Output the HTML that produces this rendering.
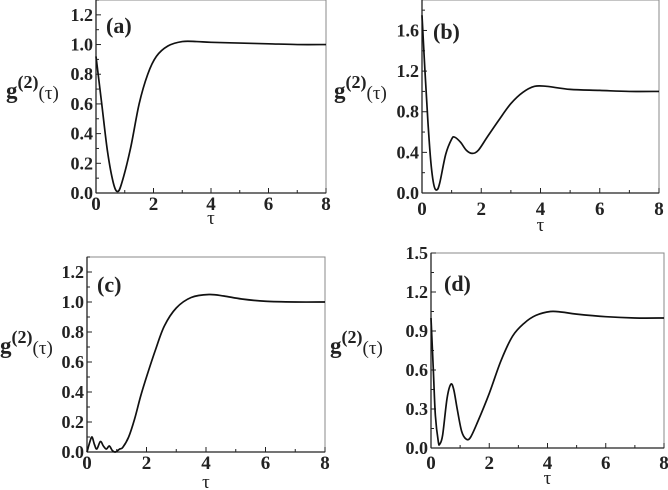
<!DOCTYPE html>
<html><head><meta charset="utf-8"><style>
html,body{margin:0;padding:0;background:#fff;}
svg{display:block;font-family:"Liberation Serif",serif;font-weight:bold;}
</style></head><body>
<svg id="fig" width="668" height="490" viewBox="0 0 668 490"></svg>
<script>
const tauA=[0,0.2,0.4,0.6,0.75,0.9,1.2,1.5,1.8,2.1,2.5,3,3.5,4,5,6,7,8];
const gA=[0.92,0.6,0.28,0.07,0.01,0.07,0.3,0.6,0.8,0.92,0.99,1.02,1.02,1.015,1.01,1.005,1.0,1.0];
const tauB=[0,0.1,0.2,0.3,0.4,0.5,0.6,0.8,1.0,1.1,1.3,1.5,1.7,1.9,2.2,2.6,3,3.4,3.8,4.2,5,6,7,8];
const gB=[1.75,1.2,0.7,0.3,0.08,0.03,0.1,0.38,0.53,0.55,0.5,0.42,0.39,0.42,0.55,0.72,0.88,0.99,1.05,1.05,1.02,1.01,1.0,1.0];
const tauC=[0,0.1,0.17,0.25,0.33,0.45,0.55,0.65,0.75,0.85,0.95,1.1,1.2,1.4,1.6,1.8,2.0,2.3,2.6,3.0,3.5,4.1,4.6,5.2,6,7,8];
const gC=[0.0,0.07,0.1,0.05,0.02,0.07,0.04,0.02,0.04,0.01,0.0,0.02,0.03,0.1,0.22,0.37,0.5,0.68,0.84,0.96,1.03,1.05,1.04,1.02,1.005,1.0,1.0];
const tauD=[0,0.08,0.15,0.25,0.3,0.4,0.55,0.68,0.78,0.9,1.05,1.2,1.35,1.6,2.0,2.4,2.8,3.2,3.6,4.1,4.5,5,6,7,8];
const gD=[1.0,0.6,0.25,0.05,0.03,0.1,0.38,0.49,0.45,0.3,0.13,0.07,0.08,0.2,0.42,0.67,0.86,0.96,1.02,1.05,1.045,1.03,1.01,1.0,1.0];
const xTicks=[0,2,4,6,8];
const yTicksA=[0,0.2,0.4,0.6,0.8,1.0,1.2];
const yTicksB=[0,0.4,0.8,1.2,1.6];
const yTicksC=[0,0.2,0.4,0.6,0.8,1.0,1.2];
const yTicksD=[0,0.3,0.6,0.9,1.2,1.5];

const NS="http://www.w3.org/2000/svg";
const svg=document.getElementById('fig');
function mk(tag,attrs,parent){const e=document.createElementNS(NS,tag);for(const k in attrs)e.setAttribute(k,attrs[k]);(parent||svg).appendChild(e);return e;}

const panels=[
 {id:'a',tau:tauA,g:gA,yt:yTicksA,ymax:1.3,x0:96,x1:326,yb:193,yt0:0,lx:6,ly:90,tag:[106,24],xl:203,tl:218},
 {id:'b',tau:tauB,g:gB,yt:yTicksB,ymax:1.9,x0:422,x1:659,yb:193,yt0:0,lx:334,ly:90,tag:[433,30],xl:208,tl:225},
 {id:'c',tau:tauC,g:gC,yt:yTicksC,ymax:1.3,x0:87,x1:325,yb:452,yt0:257,lx:0,ly:345,tag:[97,283],xl:462,tl:482},
 {id:'d',tau:tauD,g:gD,yt:yTicksD,ymax:1.5,x0:431,x1:664,yb:448,yt0:253,lx:330,ly:345,tag:[444,282],xl:462,tl:478}
];

panels.forEach(p=>{
 const g=mk('g',{});
 
 
 const X=t=>p.x0+(t/8)*(p.x1-p.x0);
 const Y=v=>p.yb-(v/p.ymax)*(p.yb-p.yt0);
 const frame=mk('rect',{x:p.x0,y:p.yt0,width:p.x1-p.x0,height:p.yb-p.yt0,fill:'none',stroke:'#888','stroke-width':1},g);
 
 
 mk('line',{x1:p.x0,y1:p.yt0,x2:p.x0,y2:p.yb,stroke:'#222','stroke-width':1.3},g);
 mk('line',{x1:p.x0,y1:p.yb,x2:p.x1,y2:p.yb,stroke:'#222','stroke-width':1.3},g);
 for(let t=0;t<=8;t+=1){
  const len=(t%2===0)?5:3;
  mk('line',{x1:X(t),y1:p.yb,x2:X(t),y2:p.yb-len,stroke:'#222'},g);
 }
 xTicks.forEach(t=>{
  const tx=mk('text',{x:X(t),y:p.xl+7,'text-anchor':'middle','font-size':19,fill:'#222'},g);
  tx.textContent=t;
  
  
 });
 const step=p.yt[1]-p.yt[0];
 for(let v=0;v<=p.ymax+1e-6;v+=step/2){
  const major=Math.abs(Math.round(v/step)*step-v)<1e-6;
  mk('line',{x1:p.x0,y1:Y(v),x2:p.x0+(major?5:3),y2:Y(v),stroke:'#222'},g);
 }
 p.yt.forEach(v=>{
  const tx=mk('text',{x:p.x0-3,y:Y(v)+6,'text-anchor':'end','font-size':18,fill:'#222'},g);
  tx.textContent=v.toFixed(1);
  
  
 });
 const xt=mk('text',{x:(p.x0+p.x1)/2,y:p.tl+6,'text-anchor':'middle','font-size':19,'font-weight':'normal',fill:'#222'},g);
 xt.textContent='τ';
 
 
 const yl=mk('text',{x:p.lx,y:p.ly+8,'font-size':23,fill:'#222'},g);
 yl.innerHTML='g<tspan dy="-10" font-size="18">(2)</tspan><tspan dy="11" font-size="19" font-weight="normal">(τ)</tspan>';
 
 
 const tg=mk('text',{x:p.tag[0],y:p.tag[1]+9,'font-size':22,fill:'#222'},g);
 tg.textContent='('+p.id+')';
 
 
 const pts=p.tau.map((t,i)=>[X(t),Y(p.g[i])]);
 let d='M'+pts[0][0].toFixed(2)+','+pts[0][1].toFixed(2);
 for(let i=0;i<pts.length-1;i++){
  const p0=pts[Math.max(0,i-1)],p1=pts[i],p2=pts[i+1],p3=pts[Math.min(pts.length-1,i+2)];
  const c1=[p1[0]+(p2[0]-p0[0])/6,p1[1]+(p2[1]-p0[1])/6];
  const c2=[p2[0]-(p3[0]-p1[0])/6,p2[1]-(p3[1]-p1[1])/6];
  d+=' C'+c1.map(v=>v.toFixed(2)).join(',')+' '+c2.map(v=>v.toFixed(2)).join(',')+' '+p2.map(v=>v.toFixed(2)).join(',');
 }
 const path=mk('path',{d:d,fill:'none',stroke:'#111','stroke-width':1.7},g);
 
 
});
</script>
</body></html>
